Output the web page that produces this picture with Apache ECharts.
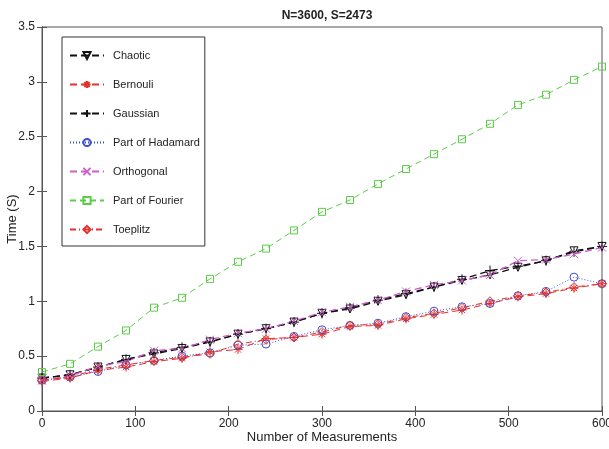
<!DOCTYPE html>
<html>
<head>
<meta charset="utf-8">
<script src="https://cdn.jsdelivr.net/npm/echarts@6/dist/echarts.min.js"></script>
<style>html,body{margin:0;padding:0;background:#fff;}#c{width:609px;height:449px;}</style>
</head>
<body>
<div id="c"></div>
<script>
const measurements = [0,30,60,90,120,150,180,210,240,270,300,330,360,390,420,450,480,510,540,570,600];
const chaotic   = [0.30,0.33,0.40,0.47,0.52,0.57,0.63,0.70,0.75,0.81,0.89,0.93,1.00,1.06,1.13,1.19,1.24,1.31,1.37,1.46,1.50];
const bernouli  = [0.27,0.30,0.37,0.40,0.45,0.48,0.54,0.56,0.66,0.67,0.70,0.77,0.78,0.84,0.88,0.92,0.98,1.04,1.07,1.12,1.16];
const gaussian  = [0.30,0.33,0.40,0.47,0.53,0.58,0.63,0.70,0.75,0.81,0.89,0.94,1.01,1.07,1.13,1.20,1.28,1.32,1.37,1.45,1.50];
const hadamard  = [0.28,0.31,0.36,0.42,0.46,0.50,0.53,0.60,0.61,0.68,0.74,0.78,0.80,0.86,0.91,0.95,0.98,1.05,1.09,1.22,1.16];
const orthogonal= [0.28,0.32,0.41,0.45,0.55,0.57,0.65,0.71,0.75,0.82,0.90,0.95,1.01,1.09,1.15,1.19,1.24,1.37,1.38,1.43,1.49];
const fourier   = [0.355,0.43,0.587,0.734,0.942,1.032,1.204,1.36,1.48,1.646,1.815,1.923,2.07,2.206,2.341,2.477,2.618,2.79,2.883,3.018,3.139];
const toeplitz  = [0.28,0.31,0.38,0.42,0.46,0.49,0.52,0.61,0.65,0.67,0.72,0.78,0.79,0.85,0.89,0.94,1.00,1.05,1.08,1.13,1.16];
const xTicks = [0,100,200,300,400,500,600];
const yTicks = [0,0.5,1,1.5,2,2.5,3,3.5];

const pair = arr => measurements.map((x,i)=>[x,arr[i]]);
const mk = (name, data, color, dash, symbol, size, width, rot) => ({
  name, type:'line', data: pair(data), symbol, symbolSize: size, symbolRotate: rot||0,
  showAllSymbol:true, clip:true,
  lineStyle:{color, width: width||1, type: dash},
  itemStyle:{color:'rgba(255,255,255,0)', borderColor: color, borderWidth: 1},
  emphasis:{disabled:true}, animation:false
});
const STAR = 'path://M0,-1L0,1M-1,0L1,0M-0.7,-0.7L0.7,0.7M-0.7,0.7L0.7,-0.7';
const PLUS = 'path://M0,-1L0,1M-1,0L1,0';
const CROSS = 'path://M-1,-1L1,1M-1,1L1,-1';

const chart = echarts.init(document.getElementById('c'), null, {renderer:'canvas'});
const font = 'Liberation Sans, Arial, sans-serif';
const axisCommon = {
  type:'value', min:0, max:600, interval:100,
  axisLine:{show:true, lineStyle:{color:'#555', width:1}},
  axisTick:{show:true, inside:true, length:5, lineStyle:{color:'#555'}},
  splitLine:{show:false}
};
chart.setOption({
  animation:false,
  textStyle:{fontFamily: font},
  title:{text:'N=3600, S=2473', left:322, textAlign:'center', top:5,
    textStyle:{fontSize:12, fontWeight:'bold', color:'#222', fontFamily:font}},
  grid:{left:42, right:7, top:27, bottom:38, show:true, borderColor:'#555', borderWidth:1,
    outerBoundsMode:'none', containLabel:false},
  legend:{
    orient:'vertical', left:62, top:37,
    padding:[12,5,10,7], itemGap:16, itemWidth:34, itemHeight:9,
    borderColor:'#333', borderWidth:1, backgroundColor:'#fff',
    textStyle:{fontSize:11, lineHeight:13, color:'#222', fontFamily:font, padding:[0,0,0,4]},
    data:['Chaotic','Bernouli','Gaussian','Part of Hadamard','Orthogonal','Part of Fourier','Toeplitz']
  },
  xAxis:[
    Object.assign({}, axisCommon, {position:'bottom',
      name:'Number of Measurements', nameLocation:'middle', nameGap:20, nameMoveOverlap:false,
      nameTextStyle:{fontSize:13, color:'#222', fontFamily:font},
      axisLabel:{fontSize:12, color:'#222', margin:7, fontFamily:font}}),
    Object.assign({}, axisCommon, {position:'top', axisLabel:{show:false}})
  ],
  yAxis:[
    {type:'value', min:0, max:3.5, interval:0.5, position:'left',
      name:'Time (S)', nameLocation:'middle', nameGap:23, nameMoveOverlap:false,
      nameTextStyle:{fontSize:13, color:'#222', fontFamily:font},
      axisLine:{show:true, lineStyle:{color:'#555'}},
      axisTick:{show:true, inside:true, length:5, lineStyle:{color:'#555'}},
      axisLabel:{fontSize:12, color:'#222', margin:7, fontFamily:font,
        formatter: v => String(v)},
      splitLine:{show:false}},
    {type:'value', min:0, max:3.5, interval:0.5, position:'right',
      axisLine:{show:true, lineStyle:{color:'#555'}},
      axisTick:{show:true, inside:true, length:5, lineStyle:{color:'#555'}},
      axisLabel:{show:false}, splitLine:{show:false}}
  ],
  series:[
    mk('Chaotic', chaotic, '#111', [7,4], 'triangle', 8, 1.3, 180),
    mk('Bernouli', bernouli, '#e8302a', [7,4], STAR, 9, 1),
    mk('Gaussian', gaussian, '#111', [7,4], PLUS, 10, 1.3),
    mk('Part of Hadamard', hadamard, '#3a4fd0', [1,2], 'circle', 8, 1),
    mk('Orthogonal', orthogonal, '#cc5fcc', [7,4], CROSS, 8, 1.3),
    mk('Part of Fourier', fourier, '#5ccc48', [6,4], 'rect', 7, 1),
    mk('Toeplitz', toeplitz, '#e8302a', [6,3,1,3], 'diamond', 9, 1)
  ]
});
</script>
</body>
</html>
